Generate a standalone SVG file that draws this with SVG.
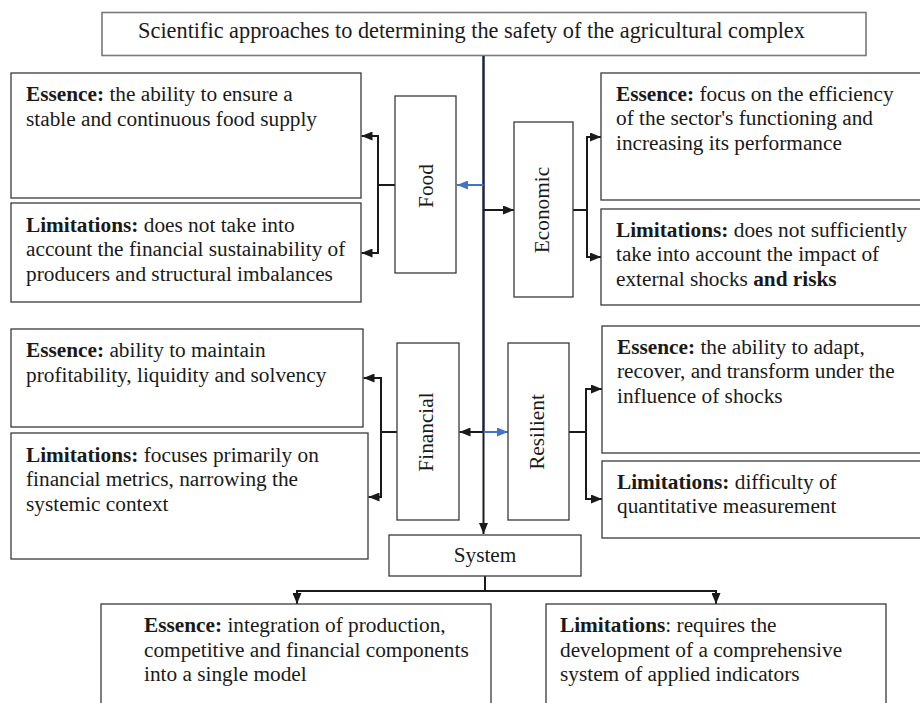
<svg xmlns="http://www.w3.org/2000/svg" width="920" height="703" viewBox="0 0 920 703">
<style>
.bx{fill:#fff;stroke:#3a3a3a;stroke-width:1.3}
.tb{fill:#fff;stroke:#7a7a7a;stroke-width:1.6}
text{font-family:"Liberation Serif","Times New Roman",serif;font-size:21.3px;fill:#1a1a1a}
.tt{font-size:22.3px}
.b{font-weight:bold}
.c{fill:none;stroke:#1a1a1a;stroke-width:2}
.main{fill:none;stroke:#1b2440;stroke-width:2.5}
.blue{fill:none;stroke:#4472c4;stroke-width:2}
</style>
<defs>
<marker id="ah" markerUnits="userSpaceOnUse" markerWidth="11" markerHeight="9" refX="11" refY="4.5" orient="auto" viewBox="0 0 11 9"><path d="M0,0 L11,4.5 L0,9 z" fill="#1a1a1a"/></marker>
<marker id="ahb" markerUnits="userSpaceOnUse" markerWidth="11" markerHeight="9" refX="11" refY="4.5" orient="auto" viewBox="0 0 11 9"><path d="M0,0 L11,4.5 L0,9 z" fill="#4472c4"/></marker>
</defs>

<g id="title">
<rect class="tb" x="102" y="12.5" width="764" height="43"/>
<text class="tt" x="471.5" y="37.5" text-anchor="middle">Scientific approaches to determining the safety of the agricultural complex</text>
</g>

<g id="connectors">
<path class="main" d="M483.5,56 V432"/>
<path class="c" d="M483.5,432 V534" marker-end="url(#ah)"/>
<path class="blue" d="M483.5,185 H457" marker-end="url(#ahb)"/>
<path class="c" d="M483.5,210 H514" marker-end="url(#ah)"/>
<path class="c" d="M483.5,432 H459.5" marker-end="url(#ah)"/>
<path class="blue" d="M483.5,432 H508" marker-end="url(#ahb)"/>
<path class="c" d="M395,185 H378 V136 H361.5" marker-end="url(#ah)"/>
<path class="c" d="M378,185 V253 H361.5" marker-end="url(#ah)"/>
<path class="c" d="M573,210 H587 V137 H601" marker-end="url(#ah)"/>
<path class="c" d="M587,210 V257 H601" marker-end="url(#ah)"/>
<path class="c" d="M397,432 H381 V378 H363.5" marker-end="url(#ah)"/>
<path class="c" d="M381,432 V497 H368.5" marker-end="url(#ah)"/>
<path class="c" d="M569,432 H586 V389 H602" marker-end="url(#ah)"/>
<path class="c" d="M586,432 V499 H602" marker-end="url(#ah)"/>
<path class="c" d="M485,576 V591 H297 V604" marker-end="url(#ah)"/>
<path class="c" d="M485,591 H716 V604" marker-end="url(#ah)"/>
</g>

<g id="food">
<rect class="bx" x="395" y="96" width="61" height="177"/>
<text transform="translate(432.5,186) rotate(-90)" text-anchor="middle">Food</text>
</g>
<g id="food-essence">
<rect class="bx" x="11" y="73" width="350" height="125"/>
<text x="26" y="101"><tspan class="b">Essence:</tspan> the ability to ensure a</text>
<text x="26" y="125.5">stable and continuous food supply</text>
</g>
<g id="food-limitations">
<rect class="bx" x="11" y="203" width="350" height="99"/>
<text x="26" y="231.5"><tspan class="b">Limitations:</tspan> does not take into</text>
<text x="26" y="256">account the financial sustainability of</text>
<text x="26" y="280.5">producers and structural imbalances</text>
</g>

<g id="economic">
<rect class="bx" x="514" y="122" width="59" height="175"/>
<text transform="translate(549,210) rotate(-90)" text-anchor="middle">Economic</text>
</g>
<g id="economic-essence">
<rect class="bx" x="601" y="73" width="330" height="127"/>
<text x="616" y="100.5"><tspan class="b">Essence:</tspan> focus on the efficiency</text>
<text x="616" y="125">of the sector's functioning and</text>
<text x="616" y="149.5">increasing its performance</text>
</g>
<g id="economic-limitations">
<rect class="bx" x="601" y="209" width="330" height="96"/>
<text x="616" y="236.5"><tspan class="b">Limitations:</tspan> does not sufficiently</text>
<text x="616" y="261">take into account the impact of</text>
<text x="616" y="285.5">external shocks <tspan class="b">and risks</tspan></text>
</g>

<g id="financial">
<rect class="bx" x="397" y="343" width="62" height="177"/>
<text transform="translate(433,432) rotate(-90)" text-anchor="middle">Financial</text>
</g>
<g id="financial-essence">
<rect class="bx" x="11" y="329" width="352" height="98"/>
<text x="26" y="357"><tspan class="b">Essence:</tspan> ability to maintain</text>
<text x="26" y="381.5">profitability, liquidity and solvency</text>
</g>
<g id="financial-limitations">
<rect class="bx" x="11" y="433" width="357" height="126"/>
<text x="26" y="461.5"><tspan class="b">Limitations:</tspan> focuses primarily on</text>
<text x="26" y="486">financial metrics, narrowing the</text>
<text x="26" y="510.5">systemic context</text>
</g>

<g id="resilient">
<rect class="bx" x="508" y="343" width="61" height="177"/>
<text transform="translate(544,432) rotate(-90)" text-anchor="middle">Resilient</text>
</g>
<g id="resilient-essence">
<rect class="bx" x="602" y="326" width="330" height="127"/>
<text x="617" y="353.5"><tspan class="b">Essence:</tspan> the ability to adapt,</text>
<text x="617" y="378">recover, and transform under the</text>
<text x="617" y="402.5">influence of shocks</text>
</g>
<g id="resilient-limitations">
<rect class="bx" x="602" y="461" width="330" height="77"/>
<text x="617" y="488.5"><tspan class="b">Limitations:</tspan> difficulty of</text>
<text x="617" y="513">quantitative measurement</text>
</g>

<g id="system">
<rect class="bx" x="389" y="535" width="192" height="41"/>
<text x="485" y="562" text-anchor="middle">System</text>
</g>
<g id="system-essence">
<rect class="bx" x="101" y="604" width="390" height="110"/>
<text x="144" y="632"><tspan class="b">Essence:</tspan> integration of production,</text>
<text x="144" y="656.5">competitive and financial components</text>
<text x="144" y="681">into a single model</text>
</g>
<g id="system-limitations">
<rect class="bx" x="546" y="604" width="340" height="110"/>
<text x="560" y="632"><tspan class="b">Limitations</tspan>: requires the</text>
<text x="560" y="656.5">development of a comprehensive</text>
<text x="560" y="681">system of applied indicators</text>
</g>
</svg>
